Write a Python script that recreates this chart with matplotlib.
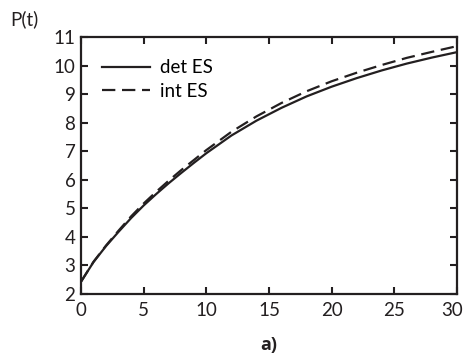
import matplotlib
matplotlib.use("Agg")
import matplotlib.pyplot as plt
from matplotlib.transforms import ScaledTranslation

plt.rcParams['font.family'] = ['Lato', 'DejaVu Sans']

# values
t = [0, 1, 2, 3, 4, 5, 6, 7, 8, 9, 10, 12, 14, 16, 18, 20, 22, 24, 26, 28, 30]
det_es = [2.43, 3.12, 3.68, 4.18, 4.66, 5.10, 5.50, 5.88, 6.24, 6.59, 6.93,
          7.55, 8.07, 8.52, 8.92, 9.26, 9.56, 9.83, 10.07, 10.28, 10.47]
int_es = [2.43, 3.13, 3.70, 4.22, 4.72, 5.17, 5.58, 5.97, 6.34, 6.69, 7.04,
          7.68, 8.22, 8.69, 9.10, 9.45, 9.75, 10.02, 10.27, 10.48, 10.68]

xticks = [0, 5, 10, 15, 20, 25, 30]
yticks = [2, 3, 4, 5, 6, 7, 8, 9, 10, 11]

fig = plt.figure(figsize=(4.64, 3.58), dpi=100)
ax = fig.add_axes([81/464, 1 - 294/358, 376/464, 257/358])

ax.plot(t, det_es, color='#231f20', lw=1.6, label='det ES')
ax.plot(t, int_es, color='#231f20', lw=1.6, linestyle=(0, (6, 3)), label='int ES')

ax.set_xlim(0, 30)
ax.set_ylim(2, 11)
ax.set_xticks(xticks)
ax.set_yticks(yticks)
ax.tick_params(direction='in', length=5, width=1.5, top=True, right=True,
               labelsize=13.5, colors='#231f20', pad=4)
ax.tick_params(axis='x', pad=6)
for s in ax.spines.values():
    s.set_linewidth(1.6)
    s.set_color('#231f20')

# last x label sits a little left so it stays inside the figure
last = ax.get_xticklabels()[-1]
last.set_transform(last.get_transform() + ScaledTranslation(-5/100, 0, fig.dpi_scale_trans))

ax.set_xlabel('a)', fontsize=13, fontweight='bold', labelpad=12, color='#231f20',
              family=['Open Sans', 'DejaVu Sans'])
fig.text(10/464, 1 - 19/358, 'P(t)', fontsize=13.5, color='#231f20', va='center')

ax.legend(loc='upper left', frameon=False, fontsize=13.5, handlelength=2.6,
          handletextpad=0.5, labelspacing=0.35, borderaxespad=0.3,
          bbox_to_anchor=(0.02, 0.965))

fig.savefig('out.png', dpi=100)
